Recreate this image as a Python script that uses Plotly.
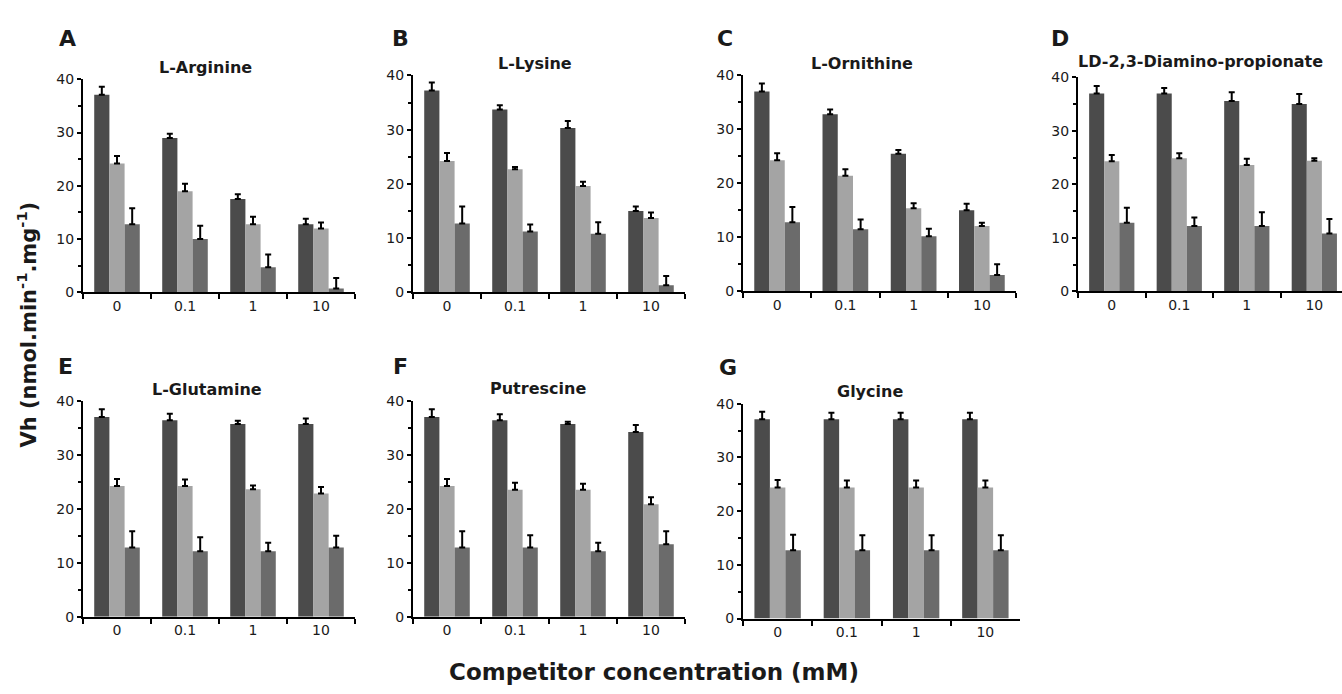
import plotly.graph_objects as go

W, H = 1342, 694

CATEGORIES = ["0", "0.1", "1", "10"]

# ---- Panel A: L-Arginine ----
ARG_S1 = [37.1, 29.0, 17.5, 12.8]
ARG_E1 = [1.5, 0.8, 0.9, 1.0]
ARG_S2 = [24.2, 19.0, 12.8, 12.0]
ARG_E2 = [1.4, 1.4, 1.4, 1.1]
ARG_S3 = [12.8, 10.0, 4.7, 0.7]
ARG_E3 = [3.0, 2.5, 2.4, 2.0]

# ---- Panel B: L-Lysine ----
LYS_S1 = [37.2, 33.7, 30.3, 15.0]
LYS_E1 = [1.5, 0.8, 1.3, 0.8]
LYS_S2 = [24.2, 22.7, 19.6, 13.7]
LYS_E2 = [1.5, 0.4, 0.8, 1.0]
LYS_S3 = [12.7, 11.2, 10.8, 1.3]
LYS_E3 = [3.1, 1.3, 2.1, 1.7]

# ---- Panel C: L-Ornithine ----
ORN_S1 = [37.0, 32.8, 25.5, 15.0]
ORN_E1 = [1.5, 0.9, 0.7, 1.2]
ORN_S2 = [24.3, 21.4, 15.4, 12.1]
ORN_E2 = [1.3, 1.2, 0.9, 0.6]
ORN_S3 = [12.8, 11.5, 10.2, 3.0]
ORN_E3 = [2.8, 1.8, 1.4, 2.0]

# ---- Panel D: LD-2,3-Diamino-propionate ----
DAP_S1 = [37.0, 37.0, 35.6, 35.0]
DAP_E1 = [1.4, 1.0, 1.6, 1.9]
DAP_S2 = [24.3, 24.9, 23.6, 24.4]
DAP_E2 = [1.2, 0.9, 1.2, 0.5]
DAP_S3 = [12.8, 12.2, 12.2, 10.8]
DAP_E3 = [2.8, 1.6, 2.6, 2.7]

# ---- Panel E: L-Glutamine ----
GLN_S1 = [37.0, 36.4, 35.7, 35.7]
GLN_E1 = [1.4, 1.2, 0.6, 1.0]
GLN_S2 = [24.2, 24.2, 23.6, 22.8]
GLN_E2 = [1.3, 1.2, 0.7, 1.2]
GLN_S3 = [12.8, 12.1, 12.1, 12.8]
GLN_E3 = [3.0, 2.6, 1.6, 2.2]

# ---- Panel F: Putrescine ----
PUT_S1 = [37.0, 36.4, 35.7, 34.2]
PUT_E1 = [1.4, 1.1, 0.4, 1.3]
PUT_S2 = [24.2, 23.5, 23.5, 20.8]
PUT_E2 = [1.3, 1.3, 1.1, 1.3]
PUT_S3 = [12.8, 12.8, 12.1, 13.4]
PUT_E3 = [3.0, 2.3, 1.6, 2.4]

# ---- Panel G: Glycine ----
GLY_S1 = [37.1, 37.1, 37.1, 37.1]
GLY_E1 = [1.4, 1.2, 1.2, 1.2]
GLY_S2 = [24.4, 24.4, 24.4, 24.4]
GLY_E2 = [1.4, 1.3, 1.3, 1.3]
GLY_S3 = [12.7, 12.7, 12.7, 12.7]
GLY_E3 = [2.9, 2.8, 2.8, 2.8]

Y_TICKS = [0, 10, 20, 30, 40]
Y_MINOR = [5, 15, 25, 35]

TITLES = ["L-Arginine", "L-Lysine", "L-Ornithine", "LD-2,3-Diamino-propionate",
          "L-Glutamine", "Putrescine", "Glycine"]
LETTERS = ["A", "B", "C", "D", "E", "F", "G"]
Y_TITLE = "Vh (nmol.min<sup>-1</sup>.mg<sup>-1</sup>)"
X_TITLE = "Competitor concentration (mM)"

SERIES = [
    (ARG_S1, ARG_E1, ARG_S2, ARG_E2, ARG_S3, ARG_E3),
    (LYS_S1, LYS_E1, LYS_S2, LYS_E2, LYS_S3, LYS_E3),
    (ORN_S1, ORN_E1, ORN_S2, ORN_E2, ORN_S3, ORN_E3),
    (DAP_S1, DAP_E1, DAP_S2, DAP_E2, DAP_S3, DAP_E3),
    (GLN_S1, GLN_E1, GLN_S2, GLN_E2, GLN_S3, GLN_E3),
    (PUT_S1, PUT_E1, PUT_S2, PUT_E2, PUT_S3, PUT_E3),
    (GLY_S1, GLY_E1, GLY_S2, GLY_E2, GLY_S3, GLY_E3),
]

# ---- layout geometry (pixels) ----
# (x_left, x_right, y_top(40), y_bottom(0), x_range_max)
BOXES = [
    (83, 355, 73, 291, 3.5),
    (413, 685, 69, 291, 3.5),
    (743, 1016, 69, 290, 3.5),
    (1078, 1342, 71, 290, 3.41),
    (83, 355, 402, 623, 3.5),
    (413, 685, 402, 623, 3.5),
    (743, 1020, 405, 625, 3.5),
]
TITLE_POS = [(205, 61), (535, 57), (862, 57), (1200, 55), (207, 390), (538, 389), (870, 393)]
LETTER_POS = [(67, 31), (400, 31), (725, 31), (1060, 31), (65, 367), (400, 367), (728, 368)]

COLORS = ["#4b4b4b", "#a4a4a4", "#6b6b6b"]
FONT = "DejaVu Sans"
TXT = "#1a1a1a"


def fx(p):
    return p / W


def fy(p):
    return 1 - p / H


fig = go.Figure()
layout_axes = {}

for i, (ser, box) in enumerate(zip(SERIES, BOXES)):
    n = i + 1
    xa = "x" if n == 1 else f"x{n}"
    ya = "y" if n == 1 else f"y{n}"
    vals = [ser[0], ser[2], ser[4]]
    errs = [ser[1], ser[3], ser[5]]
    for k in range(3):
        fig.add_trace(go.Bar(
            x=CATEGORIES, y=vals[k], xaxis=xa, yaxis=ya,
            marker=dict(color=COLORS[k], line=dict(width=0)),
            error_y=dict(type="data", array=errs[k], arrayminus=[0] * len(errs[k]),
                         symmetric=False, color="black", thickness=2, width=3),
            offsetgroup=str(k), showlegend=False, hoverinfo="skip",
        ))
    xl, xr, yt, yb, xmax = box
    layout_axes["xaxis" if n == 1 else f"xaxis{n}"] = dict(
        domain=[fx(xl), fx(xr)], anchor=ya, type="category",
        categoryorder="array", categoryarray=CATEGORIES,
        range=[-0.5, xmax], showline=True, linecolor="black", linewidth=2,
        ticks="outside", tickson="boundaries", ticklen=5, tickwidth=2, tickcolor="black",
        showgrid=False, zeroline=False, fixedrange=True,
        tickfont=dict(family=FONT, size=14, color=TXT),
    )
    layout_axes["yaxis" if n == 1 else f"yaxis{n}"] = dict(
        domain=[fy(yb), fy(yt)], anchor=xa, range=[0, 40],
        tickvals=Y_TICKS, showline=True, linecolor="black", linewidth=2,
        ticks="outside", ticklen=4, tickwidth=1.5, tickcolor="black",
        minor=dict(tickvals=Y_MINOR, ticks="outside", ticklen=3, tickwidth=1.5,
                   tickcolor="black", showgrid=False),
        showgrid=False, zeroline=False, fixedrange=True,
        tickfont=dict(family=FONT, size=14, color=TXT),
    )

annotations = []
for t, (x, y) in zip(TITLES, TITLE_POS):
    annotations.append(dict(text=f"<b>{t}</b>", x=fx(x), y=fy(y), xref="paper", yref="paper",
                            xanchor="center", yanchor="middle", showarrow=False,
                            font=dict(family=FONT, size=16, color=TXT)))
for t, (x, y) in zip(LETTERS, LETTER_POS):
    annotations.append(dict(text=f"<b>{t}</b>", x=fx(x), y=fy(y), xref="paper", yref="paper",
                            xanchor="center", yanchor="middle", showarrow=False,
                            font=dict(family=FONT, size=22, color=TXT)))
annotations.append(dict(text=f"<b>{Y_TITLE}</b>", x=fx(27), y=fy(324), xref="paper", yref="paper",
                        xanchor="center", yanchor="middle", showarrow=False, textangle=-90,
                        font=dict(family=FONT, size=21, color=TXT)))
annotations.append(dict(text=f"<b>{X_TITLE}</b>", x=fx(447), y=fy(680), xref="paper", yref="paper",
                        xanchor="left", yanchor="middle", showarrow=False,
                        font=dict(family=FONT, size=23, color=TXT)))

fig.update_layout(
    width=W, height=H, margin=dict(l=0, r=0, t=0, b=0),
    paper_bgcolor="white", plot_bgcolor="white",
    barmode="group", bargap=0.33, bargroupgap=0,
    annotations=annotations, **layout_axes,
)

fig.write_html("out.html", config={"displayModeBar": False},
               post_script="document.body.style.margin='0';document.body.style.overflow='hidden';")
